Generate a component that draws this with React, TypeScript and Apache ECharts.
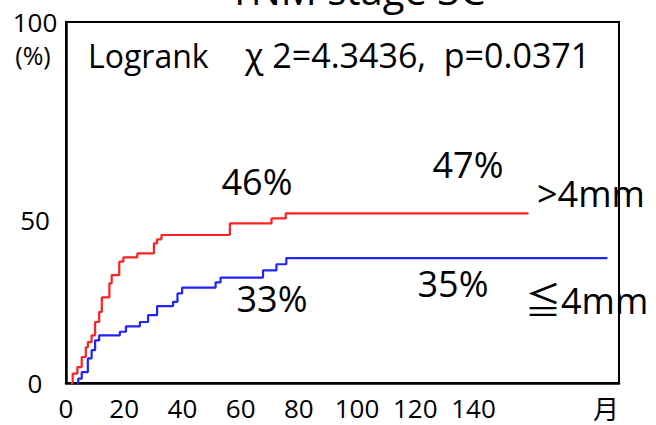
import React, { useEffect, useRef } from "react";
import * as echarts from "echarts";

const titleText = "TNM stage 3C";
const xTicks = [0, 20, 40, 60, 80, 100, 120, 140];
const xUnit = "月";
const yUnit = "(%)";
const statLabel = "Logrank";
const statText = "χ 2=4.3436,  p=0.0371";

const groupNames = [">4mm", "≦4mm"];
const groupColors = ["#ff2222", "#2222ff"];

// Kaplan-Meier style cumulative curves [months, %]
const redCurve: [number, number][] = [
  [1.7, 0], [2.3, 2.6], [3.9, 4.4], [5.4, 7.2], [6.8, 9.9], [7.5, 11.3],
  [8.8, 13.2], [10.0, 16.9], [11.4, 19.7], [12.3, 23.7], [14.9, 27.6],
  [15.7, 29.9], [18.3, 33.6], [19.7, 34.8], [24.5, 35.9], [30.2, 38.7],
  [31.3, 39.8], [32.8, 41.0], [56.3, 44.2], [70.6, 45.6], [75.5, 47.0],
  [158.9, 47.0],
];
const blueCurve: [number, number][] = [
  [3.7, 0], [4.2, 1.2], [5.4, 3.0], [7.5, 6.8], [8.8, 9.1], [10.0, 11.8],
  [11.4, 13.2], [18.5, 14.2], [20.6, 15.7], [25.4, 16.9], [28.2, 18.8],
  [31.3, 21.3], [36.8, 22.5], [38.3, 24.8], [39.9, 26.4], [51.4, 27.9],
  [53.1, 29.2], [67.7, 31.2], [72.3, 32.9], [75.7, 34.6], [186, 34.6],
];
const percentLabels = ["46%", "47%", "33%", "35%"];

const FONT = "'Open Sans', 'Noto Sans CJK JP', sans-serif";

export default function App() {
  const ref = useRef<HTMLDivElement>(null);
  useEffect(() => {
    if (!ref.current) return;
    const chart = echarts.init(ref.current, null, { renderer: "svg" });
    const txt = (text: string, x: number, y: number, fontSize: number, align = "center", extra: any = {}) => ({
      type: "text",
      x,
      y,
      z: 100,
      style: { text, fontSize, fontFamily: FONT, fill: "#000", align, verticalAlign: "middle", ...extra },
    });
    chart.setOption({
      animation: false,
      backgroundColor: "#fff",
      grid: {
        left: 66, right: 37, top: 22, bottom: 42,
        show: true, borderColor: "#000", borderWidth: 2, backgroundColor: "transparent",
      },
      xAxis: {
        type: "value", min: 0, max: 190, interval: 20,
        axisLine: { lineStyle: { color: "#000", width: 2.5 } },
        axisTick: { show: false },
        splitLine: { show: false },
        axisLabel: {
          margin: 12, fontSize: 26, lineHeight: 26, fontFamily: FONT, color: "#000",
          formatter: (v: number) => (xTicks.includes(v) ? String(v) : ""),
        },
      },
      yAxis: {
        type: "value", min: 0, max: 100, interval: 50,
        axisLine: { show: true, lineStyle: { color: "#000", width: 2.5 } },
        axisTick: { show: false },
        splitLine: { show: false },
        axisLabel: {
          margin: 31, align: "center", fontSize: 26, fontFamily: FONT, color: "#000",
          formatter: (v: number) => (v === 50 ? "{low|50}" : String(v)),
          rich: { low: { fontSize: 26, fontFamily: FONT, color: "#000", padding: [35, 0, 0, 0] } },
        },
      },
      series: [
        {
          name: groupNames[0], type: "line", step: "end", data: redCurve, symbol: "none",
          lineStyle: { color: groupColors[0], width: 2.2 },
        },
        {
          name: groupNames[1], type: "line", step: "end", data: blueCurve, symbol: "none",
          lineStyle: { color: groupColors[1], width: 2.2 },
        },
      ],
      graphic: [
        txt(titleText, 357, -11, 40),
        txt(yUnit, 33, 55, 25),
        txt(xUnit, 606, 409, 26, "center", { lineHeight: 26 }),
        txt(statLabel, 88, 55, 32, "left"),
        txt(statText, 245, 55, 34, "left"),
        txt(percentLabels[0], 257, 181, 36),
        txt(percentLabels[1], 468, 164, 36),
        txt(percentLabels[2], 272, 298, 36),
        txt(percentLabels[3], 453, 283, 36),
        txt(groupNames[0], 537, 193, 36, "left"),
        txt(groupNames[1], 525, 300, 36, "left"),
      ],
    });
    return () => chart.dispose();
  }, []);
  return (
    <div
      ref={ref}
      style={{ position: "fixed", left: 0, top: 0, width: 656, height: 425, background: "#fff" }}
    />
  );
}
